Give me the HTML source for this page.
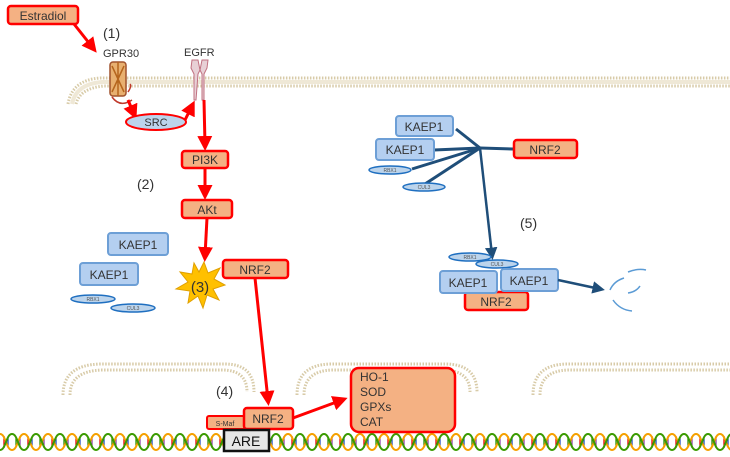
<!DOCTYPE html>
<html><head><meta charset="utf-8"><style>
body{margin:0;background:#fff}
svg{display:block;font-family:"Liberation Sans",sans-serif}
</style></head><body>
<svg width="730" height="457" viewBox="0 0 730 457">
<defs>
<marker id="ar" markerWidth="5" markerHeight="5" refX="3" refY="2.5" orient="auto" markerUnits="strokeWidth"><path d="M0,0 L5,2.5 L0,5 z" fill="#f00"/></marker>
<marker id="ab" markerWidth="5" markerHeight="5" refX="3" refY="2.5" orient="auto" markerUnits="strokeWidth"><path d="M0,0 L5,2.5 L0,5 z" fill="#1f4e79"/></marker>
<pattern id="dnap" x="0" y="432" width="24" height="20" patternUnits="userSpaceOnUse">
<line x1="4" y1="4" x2="4" y2="16" stroke="#e60000" stroke-width="1.3"/>
<line x1="8" y1="6" x2="8" y2="14" stroke="#1f4ec0" stroke-width="1.3"/>
<line x1="16" y1="6" x2="16" y2="14" stroke="#2e8b00" stroke-width="1.3"/>
<line x1="20" y1="4" x2="20" y2="16" stroke="#8e44ad" stroke-width="1.3"/>
<path d="M0,2 C6,2 6,18 12,18 C18,18 18,2 24,2" stroke="#f5a000" stroke-width="2" fill="none"/>
<path d="M0,18 C6,18 6,2 12,2 C18,2 18,18 24,18" stroke="#3a9a00" stroke-width="2" fill="none"/>
</pattern>
</defs>
<!-- cell membrane -->
<g fill="none" stroke="#d8cba8" stroke-dasharray="1.5 1.5">
<path d="M68,104 Q72,80 100,78 L730,78" stroke-width="3"/>
<path d="M76,104 Q80,88 104,86 L730,86" stroke-width="3"/>
<path d="M72,104 Q76,84 102,82 L730,82" stroke-width="4" stroke="#efe8d6" stroke-dasharray="none"/>
</g>
<!-- nuclear membranes -->
<g fill="none" stroke="#d8cba8" stroke-dasharray="1.5 1.5" stroke-width="3">
<path d="M63,395 Q63,365 100,364 L225,364 Q254,364 254,392"/>
<path d="M70,395 Q70,371 102,370 L222,370 Q247,370 247,392"/>
<path d="M297,395 Q297,365 330,364 L445,364 Q477,364 477,392"/>
<path d="M304,395 Q304,371 332,370 L442,370 Q470,370 470,392"/>
<path d="M533,395 Q533,365 566,364 L730,364"/>
<path d="M540,395 Q540,371 568,370 L730,370"/>
</g>
<!-- DNA -->
<rect x="0" y="432" width="730" height="20" fill="url(#dnap)"/>
<!-- Estradiol -->
<rect x="8" y="6" width="70" height="18" rx="3" fill="#f4b183" stroke="#f00" stroke-width="2.5"/>
<text x="43" y="20" font-size="12" text-anchor="middle" fill="#333">Estradiol</text>
<line x1="74" y1="24" x2="93" y2="48" stroke="#f00" stroke-width="3" marker-end="url(#ar)"/>
<text x="103" y="38" font-size="14" fill="#333">(1)</text>
<text x="103" y="57" font-size="11" fill="#333">GPR30</text>
<text x="184" y="56" font-size="11" fill="#333">EGFR</text>
<!-- GPR30 -->
<g stroke="#b5651d" stroke-width="1.5" fill="#e8b070">
<rect x="110" y="62" width="16" height="34" rx="3" fill="#e8b070" stroke="#a0522d"/>
<path d="M112,66 L124,92 M124,66 L112,92 M118,62 L118,96" fill="none"/>
<path d="M112,97 Q120,108 132,100 M128,92 Q132,86 130,84" fill="none" stroke="#c0392b"/>
</g>
<!-- EGFR -->
<g stroke="#c07080" stroke-width="1" fill="#e8d0d6">
<path d="M192,60 L198,60 L200,70 L198,74 L196,100 L194,100 L194,74 L191,68 z"/>
<path d="M202,60 L208,60 L207,68 L204,74 L204,100 L202,100 L202,74 L200,70 z"/>
</g>
<line x1="128" y1="100" x2="134" y2="114" stroke="#f00" stroke-width="3" marker-end="url(#ar)"/>
<ellipse cx="156" cy="122" rx="30" ry="8" fill="#bcd4ec" stroke="#f00" stroke-width="2"/>
<text x="156" y="126" font-size="11" text-anchor="middle" fill="#333">SRC</text>
<path d="M185,120 L192,106" stroke="#f00" stroke-width="3" fill="none" marker-end="url(#ar)"/>
<line x1="204" y1="100" x2="205" y2="145" stroke="#f00" stroke-width="3" marker-end="url(#ar)"/>
<rect x="182" y="151" width="46" height="17" rx="3" fill="#f4b183" stroke="#f00" stroke-width="2.5"/>
<text x="205" y="164" font-size="12" text-anchor="middle" fill="#333">PI3K</text>
<line x1="205" y1="168" x2="205" y2="194" stroke="#f00" stroke-width="3" marker-end="url(#ar)"/>
<text x="137" y="189" font-size="14" fill="#333">(2)</text>
<rect x="182" y="200" width="50" height="18" rx="3" fill="#f4b183" stroke="#f00" stroke-width="2.5"/>
<text x="207" y="214" font-size="12" text-anchor="middle" fill="#333">AKt</text>
<line x1="207" y1="218" x2="205" y2="256" stroke="#f00" stroke-width="3" marker-end="url(#ar)"/>
<polygon fill="#ffc000" stroke="#e0a000" stroke-width="1" points="204,262 208,273 220,268 214,279 225,285 213,289 219,300 207,295 203,308 198,296 188,303 190,291 176,289 188,282 180,272 192,274 194,263 199,272"/>
<text x="200" y="292" font-size="15" text-anchor="middle" fill="#333">(3)</text>
<!-- left kaep1 -->
<rect x="108" y="233" width="60" height="22" rx="3" fill="#b4cff0" stroke="#6d9fd6" stroke-width="2"/>
<text x="138" y="249" font-size="12" text-anchor="middle" fill="#333">KAEP1</text>
<rect x="80" y="263" width="58" height="22" rx="3" fill="#b4cff0" stroke="#6d9fd6" stroke-width="2"/>
<text x="109" y="279" font-size="12" text-anchor="middle" fill="#333">KAEP1</text>
<ellipse cx="93" cy="299" rx="22" ry="4" fill="#bcd4ec" stroke="#1f6fc0" stroke-width="1.5"/>
<text x="93" y="301" font-size="5" text-anchor="middle" fill="#555">RBX1</text>
<ellipse cx="133" cy="308" rx="22" ry="4" fill="#bcd4ec" stroke="#1f6fc0" stroke-width="1.5"/>
<text x="133" y="310" font-size="5" text-anchor="middle" fill="#555">CUL3</text>
<rect x="223" y="260" width="65" height="18" rx="3" fill="#f4b183" stroke="#f00" stroke-width="2.5"/>
<text x="255" y="274" font-size="12" text-anchor="middle" fill="#333">NRF2</text>
<line x1="255" y1="278" x2="268" y2="400" stroke="#f00" stroke-width="3" marker-end="url(#ar)"/>
<text x="216" y="396" font-size="14" fill="#333">(4)</text>
<rect x="207" y="416" width="38" height="13" rx="2" fill="#f4b183" stroke="#f00" stroke-width="2"/>
<text x="225" y="426" font-size="7" text-anchor="middle" fill="#333">S-Maf</text>
<rect x="244" y="408" width="49" height="21" rx="3" fill="#f4b183" stroke="#f00" stroke-width="2.5"/>
<text x="268" y="423" font-size="12" text-anchor="middle" fill="#333">NRF2</text>
<rect x="224" y="430" width="45" height="21" fill="#e6e6e6" stroke="#111" stroke-width="2.5"/>
<text x="246" y="446" font-size="14" text-anchor="middle" fill="#111">ARE</text>
<line x1="293" y1="418" x2="342" y2="400" stroke="#f00" stroke-width="3" marker-end="url(#ar)"/>
<rect x="351" y="368" width="104" height="64" rx="8" fill="#f4b183" stroke="#f00" stroke-width="2.5"/>
<g font-size="12" fill="#333">
<text x="360" y="381">HO-1</text><text x="360" y="396">SOD</text><text x="360" y="411">GPXs</text><text x="360" y="426">CAT</text>
</g>
<!-- right complex -->
<g stroke="#1f4e79" stroke-width="3" fill="none">
<line x1="456" y1="129" x2="480" y2="148"/>
<line x1="434" y1="150" x2="480" y2="148"/>
<line x1="412" y1="169" x2="480" y2="148"/>
<line x1="425" y1="184" x2="480" y2="148"/>
<line x1="480" y1="148" x2="513" y2="149"/>
</g>
<line x1="480" y1="148" x2="492" y2="255" stroke="#1f4e79" stroke-width="2.5" marker-end="url(#ab)"/>
<rect x="396" y="116" width="57" height="20" rx="3" fill="#b4cff0" stroke="#6d9fd6" stroke-width="2"/>
<text x="424" y="131" font-size="12" text-anchor="middle" fill="#333">KAEP1</text>
<rect x="376" y="139" width="58" height="21" rx="3" fill="#b4cff0" stroke="#6d9fd6" stroke-width="2"/>
<text x="405" y="154" font-size="12" text-anchor="middle" fill="#333">KAEP1</text>
<ellipse cx="390" cy="170" rx="21" ry="4" fill="#bcd4ec" stroke="#1f6fc0" stroke-width="1.5"/>
<text x="390" y="172" font-size="5" text-anchor="middle" fill="#555">RBX1</text>
<ellipse cx="424" cy="187" rx="21" ry="4" fill="#bcd4ec" stroke="#1f6fc0" stroke-width="1.5"/>
<text x="424" y="189" font-size="5" text-anchor="middle" fill="#555">CUL3</text>
<rect x="514" y="140" width="63" height="18" rx="3" fill="#f4b183" stroke="#f00" stroke-width="2.5"/>
<text x="545" y="154" font-size="12" text-anchor="middle" fill="#333">NRF2</text>
<text x="520" y="228" font-size="14" fill="#333">(5)</text>
<ellipse cx="470" cy="257" rx="21" ry="4" fill="#bcd4ec" stroke="#1f6fc0" stroke-width="1.5"/>
<text x="470" y="259" font-size="5" text-anchor="middle" fill="#555">RBX1</text>
<ellipse cx="497" cy="264" rx="21" ry="4" fill="#bcd4ec" stroke="#1f6fc0" stroke-width="1.5"/>
<text x="497" y="266" font-size="5" text-anchor="middle" fill="#555">CUL3</text>
<rect x="465" y="292" width="63" height="18" rx="3" fill="#f4b183" stroke="#f00" stroke-width="2.5"/>
<text x="496" y="306" font-size="12" text-anchor="middle" fill="#333">NRF2</text>
<rect x="440" y="271" width="57" height="22" rx="3" fill="#b4cff0" stroke="#6d9fd6" stroke-width="2"/>
<text x="468" y="287" font-size="12" text-anchor="middle" fill="#333">KAEP1</text>
<rect x="501" y="269" width="57" height="22" rx="3" fill="#b4cff0" stroke="#6d9fd6" stroke-width="2"/>
<text x="529" y="285" font-size="12" text-anchor="middle" fill="#333">KAEP1</text>
<line x1="558" y1="280" x2="600" y2="289" stroke="#1f4e79" stroke-width="2.5" marker-end="url(#ab)"/>
<g stroke="#5b9bd5" stroke-width="1.5" fill="none">
<path d="M610,290 Q614,281 624,278"/><path d="M628,272 Q638,268 646,270"/><path d="M628,293 Q636,292 640,286"/><path d="M613,300 Q620,310 632,311"/>
</g>
</svg>
</body></html>
